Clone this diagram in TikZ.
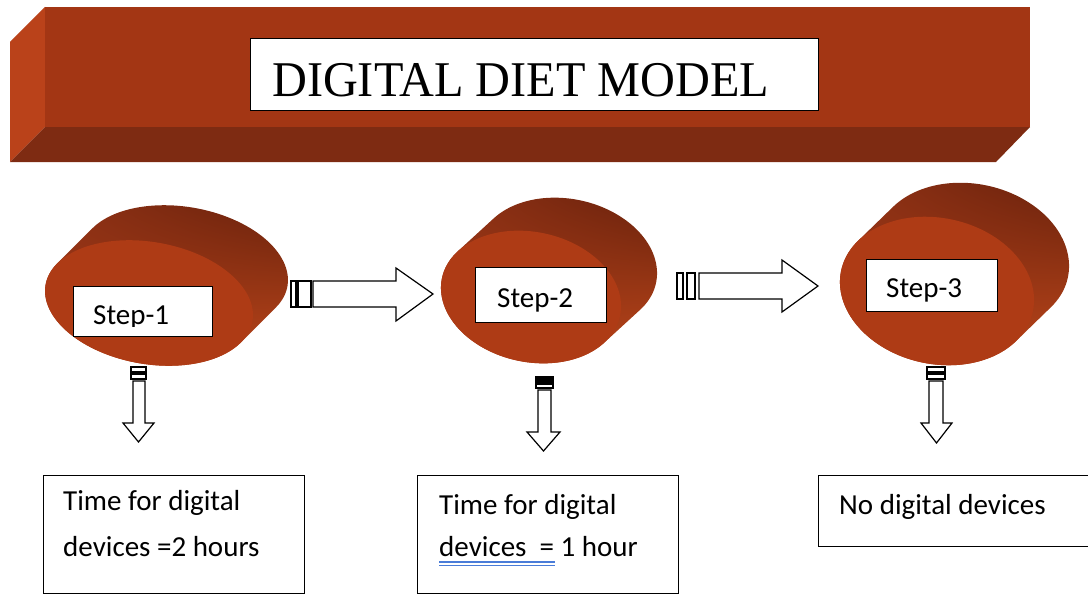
\documentclass[tikz,border=0pt]{standalone}
\usepackage{fontspec}
\usetikzlibrary{shadings}
\setmainfont{Carlito}
\newfontfamily\titlefont{Liberation Serif}
\definecolor{bannerfront}{RGB}{163,54,20}
\definecolor{bannerleft}{RGB}{186,66,26}
\definecolor{bannerbottom}{RGB}{126,43,18}
\definecolor{discfront}{RGB}{174,59,21}
\definecolor{sideUL}{RGB}{146,51,22}
\definecolor{sideUR}{RGB}{100,31,11}
\definecolor{sideLL}{RGB}{160,56,22}
\definecolor{sideLR}{RGB}{196,74,28}
\definecolor{ulblue}{RGB}{74,124,216}
\newcommand\drawdisc[8]{%
  \coordinate (#1) at (#2,#3);
  \begin{scope}[shift={(#1)}, rotate=#6]
    \pgfmathsetmacro\lvx{#7*cos(#6)-(#8)*sin(#6)}
    \pgfmathsetmacro\lvy{#7*sin(#6)+(#8)*cos(#6)}
    \pgfmathsetmacro\tstar{atan2(-#5*\lvx, #4*\lvy)}
    \shade[upper left=sideUL, upper right=sideUR, lower left=sideLL, lower right=sideLR]
      ({#4*cos(\tstar-180)},{#5*sin(\tstar-180)})
      arc[start angle=\tstar-180, end angle=\tstar, x radius=#4, y radius=#5]
      -- ++(\lvx,\lvy)
      arc[start angle=\tstar, end angle=\tstar+180, x radius=#4, y radius=#5]
      -- cycle;
    \fill[discfront] (0,0) ellipse[x radius=#4, y radius=#5];
  \end{scope}}
\tikzset{
  outline/.style={draw=black, line width=1.2pt, fill=white},
  stepbox/.style={outline, anchor=north west, inner sep=0pt},
  steptext/.style={anchor=base west, inner sep=0pt, font=\fontsize{29}{29}\selectfont},
  bodytext/.style={anchor=base west, inner sep=0pt, font=\fontsize{29}{29}\selectfont},
  blockarrow/.style={draw=black, line width=1.2pt, fill=white, line join=miter},
}
\begin{document}
\begin{tikzpicture}[x=1pt,y=-1pt]
\useasboundingbox (0,0) rectangle (1088,594);
% banner
\fill[bannerleft] (10,42) -- (45,7) -- (45,127) -- (10,162) -- cycle;
\fill[bannerfront] (45,7) rectangle (1030,127);
\fill[bannerbottom] (45,127) -- (1030,127) -- (996,162) -- (10,162) -- cycle;
\node[outline, anchor=north west, minimum width=568, minimum height=72, inner sep=0pt] (titlebox) at (250,38) {};
\node[anchor=base west, inner sep=0pt, font=\titlefont\fontsize{50}{50}\selectfont] (title) at (272,96) {\scalebox{0.965}[1]{DIGITAL DIET MODEL}};
% discs
\drawdisc{d1}{149}{303}{105}{61}{-10}{35}{-35}
\drawdisc{d2}{531}{297}{91}{65}{-12}{36}{-33}
\drawdisc{d3}{937}{291}{98}{73}{-12}{35}{-34}
% step boxes
\node[stepbox, minimum width=139, minimum height=50] (s1box) at (73,286) {};
\begin{scope}
  \clip (73,286) rectangle (212,326);
  \node[steptext] (s1) at (93,324) {Step-1};
\end{scope}
\node[stepbox, minimum width=131, minimum height=55] (s2box) at (475,267) {};
\node[steptext] (s2) at (497,307) {Step-2};
\node[stepbox, minimum width=131, minimum height=52] (s3box) at (866,259) {};
\begin{scope}
  \clip (866,259) rectangle (997,301);
  \node[steptext] (s3) at (886,297) {Step-3};
\end{scope}
% horizontal arrows
\draw[blockarrow] (291,281) rectangle (296,307);
\draw[blockarrow] (298,281) rectangle (311,307);
\draw[blockarrow] (313,281) -- (396,281) -- (396,268) -- (433,294) -- (396,321) -- (396,307) -- (313,307) -- cycle;
\draw[blockarrow] (677,273) rectangle (683,299);
\draw[blockarrow] (687,273) rectangle (695,299);
\draw[blockarrow] (699,273) -- (782,273) -- (782,260) -- (818,286) -- (782,312) -- (782,299) -- (699,299) -- cycle;
% down arrows
\draw[blockarrow] (131,367) rectangle (146,372);
\draw[blockarrow] (131,374) rectangle (146,379);
\draw[blockarrow] (133,381) -- (133,423) -- (123,423) -- (138.5,442) -- (154,423) -- (145,423) -- (145,381) -- cycle;
\draw[blockarrow, fill=black] (536,377) rectangle (553,382);
\draw[blockarrow] (536,384) rectangle (553,388);
\draw[blockarrow] (538,390) -- (538,432) -- (527,432) -- (543.5,451) -- (560,432) -- (551,432) -- (551,390) -- cycle;
\draw[blockarrow] (927,367) rectangle (945,372);
\draw[blockarrow] (927,374) rectangle (945,379);
\draw[blockarrow] (929,381) -- (929,423) -- (921,423) -- (936.5,443) -- (952,423) -- (943,423) -- (943,381) -- cycle;
% body boxes
\node[stepbox, minimum width=261, minimum height=118] (b1) at (43,475) {};
\node[bodytext] (b1a) at (63,510) {Time for digital};
\node[bodytext] (b1b) at (63,556) {devices =2 hours};
\node[stepbox, minimum width=261, minimum height=118] (b2) at (417,475) {};
\node[bodytext] (b2a) at (439,514) {Time for digital};
\node[bodytext] (b2b) at (439,556) {devices\ \ = 1 hour};
\draw[ulblue, line width=1.1pt] (439,562) -- (555,562);
\draw[ulblue, line width=1.1pt] (439,565.5) -- (555,565.5);
\node[stepbox, minimum width=280, minimum height=71] (b3) at (818,475) {};
\node[bodytext] (b3a) at (839,514) {No digital devices};
\end{tikzpicture}
\end{document}
